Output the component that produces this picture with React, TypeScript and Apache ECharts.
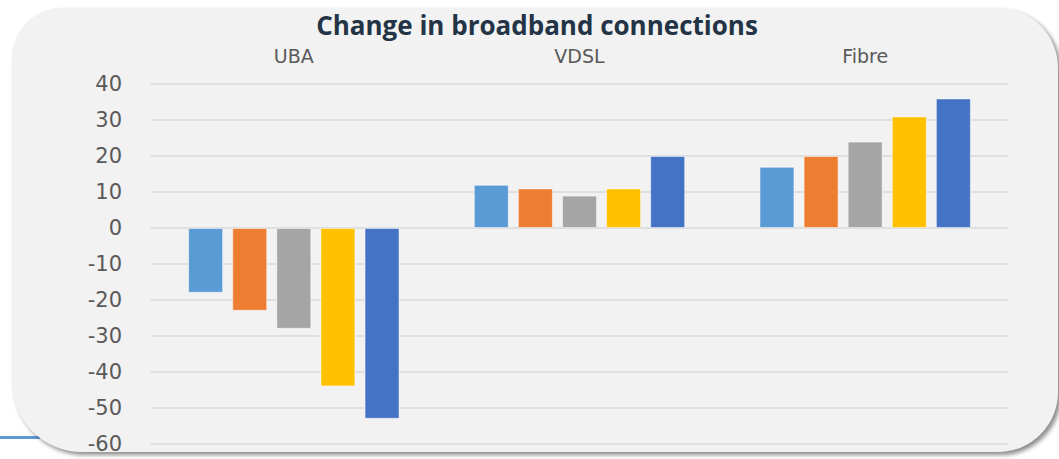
import React, { useEffect, useRef } from "react";
import * as echarts from "echarts";

const categories = ["UBA", "VDSL", "Fibre"];
const seriesNames = ["Series 1", "Series 2", "Series 3", "Series 4", "Series 5"];
const series1 = [-18, 12, 17];
const series2 = [-23, 11, 20];
const series3 = [-28, 9, 24];
const series4 = [-44, 11, 31];
const series5 = [-53, 20, 36];
const seriesValues = [series1, series2, series3, series4, series5];
const colors = ["#5B9BD5", "#ED7D31", "#A5A5A5", "#FFC000", "#4472C4"];

export default function App() {
  const ref = useRef<HTMLDivElement>(null);
  useEffect(() => {
    if (!ref.current) return;
    const chart = echarts.init(ref.current, undefined, { renderer: "svg" });
    chart.setOption({
      animation: false,
      backgroundColor: "transparent",
      title: {
        text: "Change in broadband connections",
        left: 537,
        textAlign: "center",
        top: 12,
        padding: 0,
        textStyle: {
          fontFamily: "Open Sans",
          fontWeight: "bold",
          fontSize: 26,
          lineHeight: 26,
          color: "#243447",
        },
      },
      grid: { left: 151, right: 51, top: 84, bottom: 15, containLabel: false },
      xAxis: {
        type: "category",
        position: "top",
        data: categories,
        axisLine: { show: false },
        axisTick: { show: false },
        axisLabel: {
          color: "#595959",
          fontSize: 19,
          lineHeight: 19,
          fontFamily: "DejaVu Sans",
          margin: 19,
        },
      },
      yAxis: {
        type: "value",
        min: -60,
        max: 40,
        interval: 10,
        axisLine: { show: false },
        axisTick: { show: false },
        axisLabel: {
          color: "#595959",
          fontSize: 21,
          fontFamily: "DejaVu Sans",
          margin: 29,
        },
        splitLine: { lineStyle: { color: "#d9d9d9", width: 1.5 } },
      },
      series: seriesValues.map((vals, i) => ({
        type: "bar",
        name: seriesNames[i],
        data: vals,
        barGap: "26%",
        barCategoryGap: "26%",
        itemStyle: {
          color: colors[i],
          borderColor: "rgba(255,255,255,0.5)",
          borderWidth: 1,
        },
      })),
    });
    return () => chart.dispose();
  }, []);
  return (
    <div style={{ position: "absolute", left: 0, top: 0, width: 1059, height: 459, overflow: "hidden", background: "#ffffff" }}>
      <div style={{ position: "absolute", left: 0, top: 436, width: 40, height: 2.5, background: "#5B9BD5" }} />
      <div
        style={{
          position: "absolute",
          left: 12,
          top: 8,
          width: 1046,
          height: 444,
          background: "#f2f2f2",
          borderRadius: "50px 60px 60px 70px",
          boxShadow: "3px 3px 4px rgba(0,0,0,0.45)",
        }}
      />
      <div ref={ref} style={{ position: "absolute", left: 0, top: 0, width: 1059, height: 459 }} />
    </div>
  );
}
